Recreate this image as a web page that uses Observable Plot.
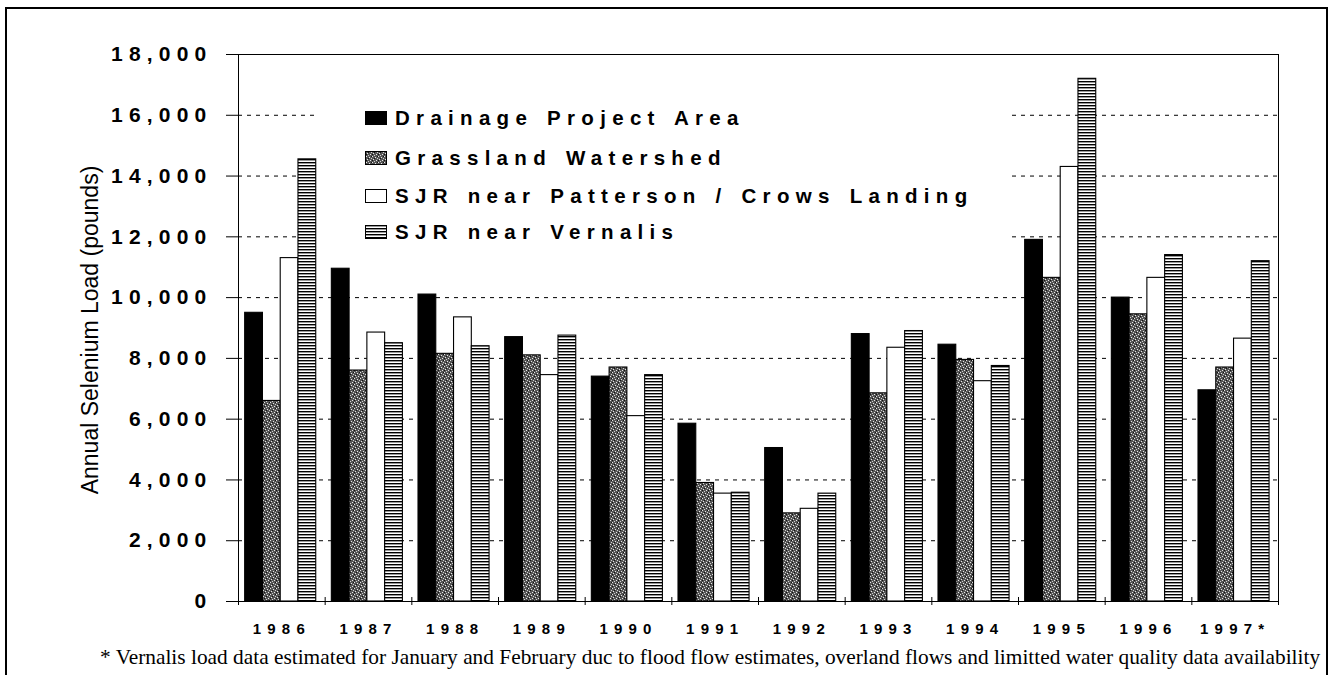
<!DOCTYPE html>
<html>
<head>
<meta charset="utf-8">
<script src="https://cdn.jsdelivr.net/npm/d3@7"></script>
<script src="https://cdn.jsdelivr.net/npm/@observablehq/plot@0.6"></script>
<style>
  html, body { margin: 0; padding: 0; background: white; }
  #wrap { position: relative; width: 1334px; height: 675px; overflow: hidden; background: white; }
  #chart { position: absolute; left: 0; top: 0; }
  #overlay { position: absolute; left: 0; top: 0; pointer-events: none; }
  g[aria-label="y-axis tick label"] text { letter-spacing: 6.2px; }
  g[aria-label="x-axis tick label"] text { letter-spacing: 6.2px; }
</style>
</head>
<body>
<div id="wrap">
  <div id="chart"></div>
  <svg id="overlay" width="1334" height="675" xmlns="http://www.w3.org/2000/svg"></svg>
</div>
<script>
// ---------- data ----------
const years = [1986, 1987, 1988, 1989, 1990, 1991, 1992, 1993, 1994, 1995, 1996, 1997];
const yearLabels = ["1986", "1987", "1988", "1989", "1990", "1991", "1992", "1993", "1994", "1995", "1996", "1997*"];
const seriesNames = ["Drainage Project Area", "Grassland Watershed", "SJR near Patterson / Crows Landing", "SJR near Vernalis"];
const drainage  = [9500, 10950, 10100, 8700, 7400, 5850, 5050, 8800, 8450, 11900, 10000, 6950];
const grassland = [6600, 7600, 8150, 8100, 7700, 3900, 2900, 6850, 7950, 10650, 9450, 7700];
const patterson = [11300, 8850, 9350, 7450, 6100, 3550, 3050, 8350, 7250, 14300, 10650, 8650];
const vernalis  = [14550, 8500, 8400, 8750, 7450, 3580, 3550, 8900, 7750, 17200, 11400, 11200];
const yTicks = [0, 2000, 4000, 6000, 8000, 10000, 12000, 14000, 16000, 18000];
const gridValues = [2000, 4000, 6000, 8000, 10000, 12000, 14000, 16000];
const yLabel = "Annual Selenium Load (pounds)";
const footnote = "* Vernalis load data estimated for January and February duc to flood flow estimates, overland flows and limitted water quality data availability";

// ---------- overlay with pattern defs ----------
const NS = "http://www.w3.org/2000/svg";
const ov = document.getElementById("overlay");
ov.innerHTML = `
<defs>
  <pattern id="stipple" patternUnits="userSpaceOnUse" width="6" height="6">
    <rect width="6" height="6" fill="#555"/>
    <rect x="0" y="0" width="1" height="1" fill="#e8e8e8"/>
    <rect x="3" y="1" width="1" height="1" fill="#e8e8e8"/>
    <rect x="1" y="3" width="1" height="1" fill="#e8e8e8"/>
    <rect x="4" y="4" width="1" height="1" fill="#e8e8e8"/>
    <rect x="5" y="2" width="1" height="1" fill="#d0d0d0"/>
    <rect x="2" y="5" width="1" height="1" fill="#d0d0d0"/>
    <rect x="2" y="2" width="1" height="1" fill="#111"/>
    <rect x="5" y="0" width="1" height="1" fill="#111"/>
    <rect x="0" y="4" width="1" height="1" fill="#111"/>
  </pattern>
  <pattern id="hstripe" patternUnits="userSpaceOnUse" width="4" height="3">
    <rect width="4" height="3" fill="white"/>
    <rect x="0" y="0" width="4" height="1.4" fill="black"/>
  </pattern>
</defs>`;

const fills = ["black", "url(#stipple)", "white", "url(#hstripe)"];
const seriesValues = [drainage, grassland, patterson, vernalis];

// ---------- chart ----------
const W = 1334, H = 640, mL = 238, mR = 56, mT = 54, mB = 39;
const groupPx = (W - mL - mR) / years.length;
const padLeft = groupPx * 0.077, barPx = groupPx * 0.205;

const barMarks = seriesValues.map((vals, j) => {
  const rows = years.map((y, i) => ({year: y, value: vals[i], series: seriesNames[j]}));
  return Plot.rectY(rows, {
    x1: d => d.year - 0.5,
    x2: d => d.year + 0.5,
    y: "value",
    fill: fills[j],
    stroke: "black",
    strokeWidth: 1.1,
    insetLeft: padLeft + j * barPx,
    insetRight: groupPx - (padLeft + (j + 1) * barPx)
  });
});

const boundaries = years.map(y => y - 0.5).concat([years[years.length - 1] + 0.5]);

const chart = Plot.plot({
  width: W, height: H,
  marginLeft: mL, marginRight: mR, marginTop: mT, marginBottom: mB,
  style: {fontFamily: "'Liberation Sans', Arial, sans-serif", background: "white", color: "black", overflow: "visible"},
  x: {domain: [years[0] - 0.5, years[years.length - 1] + 0.5]},
  y: {domain: [0, 18000]},
  marks: [
    Plot.ruleY(gridValues, {stroke: "black", strokeWidth: 1, strokeDasharray: "4,5"}),
    ...barMarks,
    Plot.frame({stroke: "black", strokeWidth: 1}),
    Plot.ruleX(boundaries, {y1: 0, y2: 0, insetTop: -4, insetBottom: -4, stroke: "black", strokeWidth: 1}),
    Plot.axisY({ticks: yTicks, tickSize: 12, tickPadding: 14, tickFormat: d3.format(","), fontSize: 21, fontWeight: "bold", label: null, stroke: "black"}),
    Plot.axisX({ticks: years, tickSize: 0, tickPadding: 22, tickFormat: d => yearLabels[years.indexOf(d)], fontSize: 15, fontWeight: "bold", label: null})
  ]
});
document.getElementById("chart").appendChild(chart);

// ---------- overlay: legend, y label, footnote, frame ----------
function el(tag, attrs, text) {
  const e = document.createElementNS(NS, tag);
  for (const k in attrs) e.setAttribute(k, attrs[k]);
  if (text != null) e.textContent = text;
  ov.appendChild(e);
  return e;
}
// legend box (white, hides gridlines)
el("rect", {x: 318, y: 60, width: 690, height: 188, fill: "white"});
const rowCenters = [118, 158, 196, 232];
seriesNames.forEach((name, j) => {
  const cy = rowCenters[j];
  el("rect", {x: 365.5, y: cy - 6.5, width: 21, height: 13, fill: fills[j], stroke: "black", "stroke-width": 1});
  el("text", {x: 395, y: cy + 7.3, "font-family": "'Liberation Sans', Arial, sans-serif", "font-size": 20.5, "font-weight": "bold",
              style: "letter-spacing:6.3px; word-spacing:2px", fill: "black"}, name);
});
// y axis title
el("text", {transform: "translate(98,330) rotate(-90)", "text-anchor": "middle",
            "font-family": "'Liberation Sans', Arial, sans-serif", "font-size": 23, fill: "black"}, yLabel);
// footnote: natural width measured, then condensed horizontally to the reference span
const fn = el("text", {x: 0, y: 0, "font-family": "'Liberation Serif', 'Times New Roman', serif", "font-size": 22, fill: "black"}, footnote);
const natural = fn.getComputedTextLength();
const sx = 1221 / natural;
fn.setAttribute("transform", `translate(100,664) scale(${sx},1)`);
// outer frame
el("path", {d: "M6,676 L6,8 L1327,8 L1327,676", fill: "none", stroke: "black", "stroke-width": 2});
</script>
</body>
</html>
